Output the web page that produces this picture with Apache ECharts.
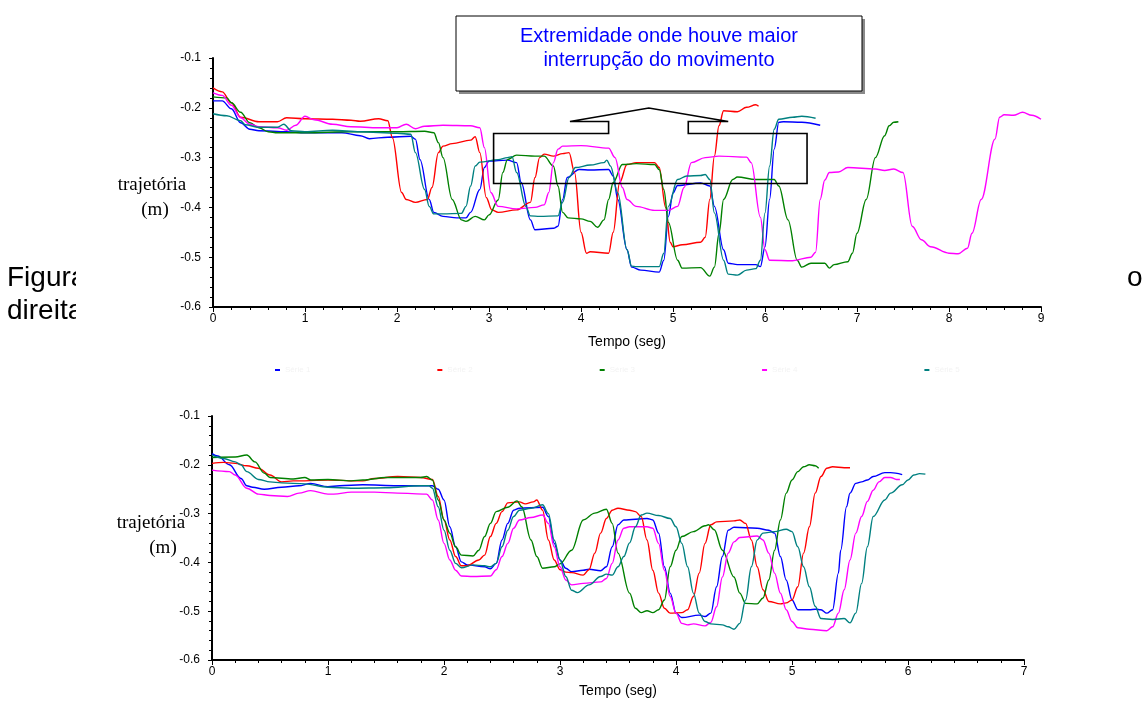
<!DOCTYPE html>
<html>
<head>
<meta charset="utf-8">
<script src="https://cdn.jsdelivr.net/npm/echarts@6/dist/echarts.min.js"></script>
<style>
  html, body { margin: 0; padding: 0; background: #fff; }
  #chart { width: 1145px; height: 702px; }
</style>
</head>
<body>
<div id="chart"></div>
<script>
// series names (legend order) and colours
const SERIES_NAMES = ['Série 1', 'Série 2', 'Série 3', 'Série 4', 'Série 5']
const COLORS = ['#0000ff', '#ff0000', '#008000', '#ff00ff', '#008080']

// top chart: [tempo, trajetória]
const topBlue = [[0,-0.186],[0.1,-0.186],[0.2,-0.202],[0.3,-0.23],[0.4,-0.243],[0.5,-0.246],[0.8,-0.248],[1.0,-0.25],[1.4,-0.25],[1.6,-0.256],[1.7,-0.262],[1.9,-0.259],[2.15,-0.257],[2.2,-0.263],[2.25,-0.304],[2.35,-0.384],[2.4,-0.41],[2.5,-0.418],[2.65,-0.421],[2.75,-0.421],[2.8,-0.41],[2.9,-0.364],[2.95,-0.32],[3.0,-0.307],[3.2,-0.305],[3.3,-0.31],[3.35,-0.35],[3.45,-0.425],[3.5,-0.445],[3.7,-0.442],[3.75,-0.438],[3.8,-0.384],[3.85,-0.34],[3.98,-0.324],[4.1,-0.325],[4.3,-0.324],[4.35,-0.337],[4.4,-0.384],[4.5,-0.485],[4.55,-0.52],[4.65,-0.526],[4.85,-0.53],[4.9,-0.506],[4.95,-0.418],[5.0,-0.371],[5.05,-0.356],[5.3,-0.351],[5.4,-0.357],[5.45,-0.398],[5.55,-0.485],[5.6,-0.512],[5.7,-0.515],[5.9,-0.515],[5.95,-0.519],[6.0,-0.479],[6.05,-0.384],[6.1,-0.283],[6.15,-0.229],[6.2,-0.228],[6.4,-0.229],[6.6,-0.235]]
const topRed = [[0,-0.16],[0.1,-0.168],[0.2,-0.19],[0.3,-0.219],[0.5,-0.228],[0.7,-0.228],[0.8,-0.22],[1.0,-0.222],[1.3,-0.223],[1.5,-0.225],[1.6,-0.227],[1.8,-0.222],[1.9,-0.226],[1.95,-0.26],[2.05,-0.37],[2.1,-0.384],[2.2,-0.39],[2.33,-0.384],[2.38,-0.36],[2.45,-0.29],[2.5,-0.277],[2.6,-0.272],[2.8,-0.265],[2.85,-0.258],[2.9,-0.29],[2.97,-0.38],[3.03,-0.405],[3.1,-0.41],[3.3,-0.405],[3.45,-0.39],[3.5,-0.34],[3.55,-0.3],[3.6,-0.293],[3.7,-0.297],[3.8,-0.292],[3.87,-0.29],[3.93,-0.33],[4.0,-0.45],[4.06,-0.492],[4.1,-0.489],[4.3,-0.492],[4.35,-0.45],[4.42,-0.35],[4.5,-0.314],[4.6,-0.31],[4.8,-0.31],[4.85,-0.32],[4.92,-0.4],[4.97,-0.47],[5.0,-0.479],[5.1,-0.475],[5.3,-0.47],[5.35,-0.46],[5.4,-0.384],[5.45,-0.297],[5.5,-0.236],[5.55,-0.206],[5.7,-0.208],[5.8,-0.199],[5.9,-0.194],[5.93,-0.197]]
const topGreen = [[0,-0.178],[0.15,-0.18],[0.2,-0.19],[0.3,-0.209],[0.4,-0.23],[0.5,-0.24],[0.6,-0.248],[0.7,-0.25],[1.0,-0.25],[1.5,-0.248],[2.0,-0.248],[2.3,-0.247],[2.4,-0.25],[2.45,-0.27],[2.5,-0.3],[2.6,-0.384],[2.7,-0.425],[2.75,-0.428],[2.85,-0.418],[2.95,-0.425],[3.0,-0.415],[3.1,-0.385],[3.15,-0.33],[3.2,-0.304],[3.3,-0.295],[3.5,-0.297],[3.6,-0.297],[3.7,-0.317],[3.75,-0.357],[3.8,-0.41],[3.86,-0.421],[4.0,-0.423],[4.1,-0.428],[4.18,-0.44],[4.25,-0.425],[4.3,-0.384],[4.35,-0.35],[4.45,-0.314],[4.6,-0.312],[4.8,-0.314],[4.85,-0.324],[4.9,-0.364],[4.95,-0.43],[5.05,-0.506],[5.1,-0.522],[5.3,-0.521],[5.4,-0.538],[5.45,-0.52],[5.5,-0.452],[5.55,-0.384],[5.65,-0.344],[5.7,-0.339],[5.9,-0.344],[6.1,-0.344],[6.15,-0.357],[6.25,-0.425],[6.35,-0.506],[6.4,-0.52],[6.5,-0.512],[6.65,-0.512],[6.7,-0.522],[6.75,-0.515],[6.9,-0.509],[6.95,-0.492],[7.0,-0.452],[7.1,-0.384],[7.2,-0.3],[7.3,-0.256],[7.35,-0.236],[7.4,-0.229],[7.45,-0.228]]
const topMagenta = [[0,-0.17],[0.1,-0.175],[0.2,-0.195],[0.3,-0.22],[0.4,-0.233],[0.5,-0.238],[0.7,-0.24],[0.8,-0.245],[0.9,-0.235],[1.0,-0.217],[1.1,-0.224],[1.3,-0.233],[1.5,-0.238],[1.8,-0.24],[2.0,-0.24],[2.1,-0.233],[2.2,-0.242],[2.3,-0.237],[2.5,-0.235],[2.8,-0.236],[2.9,-0.24],[2.95,-0.28],[3.02,-0.37],[3.1,-0.398],[3.3,-0.403],[3.5,-0.4],[3.6,-0.395],[3.65,-0.37],[3.7,-0.31],[3.75,-0.283],[3.8,-0.277],[4.0,-0.276],[4.3,-0.281],[4.37,-0.3],[4.45,-0.36],[4.5,-0.384],[4.6,-0.398],[4.8,-0.406],[4.95,-0.406],[5.05,-0.398],[5.12,-0.36],[5.2,-0.31],[5.35,-0.3],[5.5,-0.297],[5.8,-0.299],[5.85,-0.31],[5.95,-0.42],[6.0,-0.485],[6.05,-0.506],[6.3,-0.507],[6.5,-0.5],[6.55,-0.49],[6.6,-0.384],[6.65,-0.345],[6.7,-0.33],[6.8,-0.329],[6.9,-0.32],[7.2,-0.323],[7.3,-0.326],[7.4,-0.323],[7.5,-0.33],[7.6,-0.438],[7.7,-0.465],[7.8,-0.479],[8.0,-0.492],[8.1,-0.493],[8.2,-0.482],[8.25,-0.452],[8.35,-0.384],[8.5,-0.263],[8.55,-0.219],[8.6,-0.214],[8.7,-0.215],[8.8,-0.209],[8.9,-0.215],[9.0,-0.223]]
const topTeal = [[0,-0.212],[0.15,-0.216],[0.3,-0.226],[0.35,-0.234],[0.5,-0.239],[0.7,-0.239],[0.77,-0.233],[0.85,-0.246],[1.0,-0.248],[1.3,-0.245],[1.6,-0.248],[2.0,-0.251],[2.15,-0.253],[2.2,-0.29],[2.3,-0.364],[2.35,-0.398],[2.4,-0.413],[2.5,-0.413],[2.7,-0.412],[2.75,-0.398],[2.8,-0.357],[2.85,-0.317],[2.9,-0.309],[3.1,-0.304],[3.2,-0.3],[3.25,-0.298],[3.3,-0.33],[3.4,-0.398],[3.45,-0.417],[3.55,-0.418],[3.75,-0.417],[3.8,-0.39],[3.87,-0.34],[3.94,-0.32],[4.1,-0.315],[4.25,-0.31],[4.28,-0.305],[4.32,-0.317],[4.4,-0.371],[4.5,-0.485],[4.55,-0.518],[4.6,-0.519],[4.85,-0.519],[4.9,-0.492],[4.95,-0.398],[5.05,-0.344],[5.15,-0.337],[5.3,-0.336],[5.35,-0.334],[5.4,-0.344],[5.45,-0.411],[5.55,-0.506],[5.6,-0.534],[5.7,-0.536],[5.8,-0.526],[5.9,-0.523],[5.95,-0.506],[6.0,-0.411],[6.05,-0.317],[6.1,-0.243],[6.15,-0.223],[6.3,-0.219],[6.4,-0.217],[6.55,-0.221]]

// bottom chart
const botBlue = [[0,-0.177],[0.05,-0.182],[0.15,-0.2],[0.25,-0.228],[0.3,-0.243],[0.35,-0.246],[0.45,-0.25],[0.6,-0.246],[0.75,-0.243],[0.85,-0.238],[1.0,-0.245],[1.1,-0.243],[1.3,-0.241],[1.6,-0.243],[1.9,-0.243],[1.95,-0.25],[2.0,-0.272],[2.05,-0.327],[2.1,-0.368],[2.15,-0.399],[2.2,-0.405],[2.35,-0.409],[2.4,-0.413],[2.45,-0.402],[2.5,-0.354],[2.55,-0.32],[2.6,-0.293],[2.65,-0.289],[2.85,-0.287],[2.9,-0.306],[2.95,-0.361],[3.0,-0.395],[3.05,-0.412],[3.1,-0.419],[3.2,-0.416],[3.25,-0.414],[3.35,-0.417],[3.4,-0.409],[3.45,-0.368],[3.5,-0.323],[3.55,-0.313],[3.75,-0.31],[3.8,-0.313],[3.85,-0.34],[3.9,-0.409],[3.95,-0.463],[4.0,-0.504],[4.05,-0.513],[4.2,-0.508],[4.25,-0.511],[4.3,-0.504],[4.35,-0.45],[4.4,-0.388],[4.45,-0.334],[4.5,-0.328],[4.7,-0.33],[4.8,-0.334],[4.85,-0.34],[4.9,-0.388],[4.95,-0.436],[5.0,-0.477],[5.05,-0.497],[5.15,-0.497],[5.2,-0.496],[5.25,-0.497],[5.3,-0.504],[5.35,-0.497],[5.4,-0.422],[5.42,-0.375],[5.47,-0.286],[5.5,-0.258],[5.55,-0.238],[5.6,-0.235],[5.65,-0.231],[5.7,-0.224],[5.8,-0.216],[5.85,-0.216],[5.95,-0.22]]
const botRed = [[0,-0.197],[0.1,-0.195],[0.2,-0.197],[0.3,-0.202],[0.4,-0.207],[0.5,-0.221],[0.6,-0.235],[0.7,-0.233],[0.8,-0.233],[1.0,-0.231],[1.2,-0.233],[1.3,-0.233],[1.4,-0.228],[1.6,-0.224],[1.8,-0.226],[1.9,-0.23],[1.95,-0.265],[2.0,-0.313],[2.05,-0.354],[2.1,-0.388],[2.15,-0.407],[2.2,-0.407],[2.3,-0.395],[2.35,-0.385],[2.4,-0.347],[2.45,-0.32],[2.5,-0.296],[2.55,-0.278],[2.65,-0.276],[2.7,-0.28],[2.77,-0.276],[2.8,-0.272],[2.85,-0.293],[2.9,-0.354],[2.95,-0.395],[3.0,-0.415],[3.05,-0.42],[3.1,-0.421],[3.2,-0.426],[3.25,-0.415],[3.3,-0.381],[3.35,-0.34],[3.4,-0.31],[3.45,-0.293],[3.5,-0.289],[3.6,-0.293],[3.65,-0.296],[3.7,-0.306],[3.75,-0.354],[3.8,-0.416],[3.85,-0.463],[3.9,-0.494],[3.95,-0.504],[4.05,-0.503],[4.1,-0.497],[4.15,-0.47],[4.2,-0.422],[4.25,-0.361],[4.3,-0.323],[4.35,-0.317],[4.5,-0.315],[4.55,-0.313],[4.6,-0.32],[4.65,-0.354],[4.7,-0.409],[4.75,-0.456],[4.8,-0.48],[4.9,-0.485],[4.95,-0.483],[5.0,-0.477],[5.05,-0.45],[5.1,-0.381],[5.15,-0.327],[5.2,-0.258],[5.25,-0.224],[5.3,-0.207],[5.35,-0.204],[5.45,-0.206],[5.5,-0.206]]
const botGreen = [[0,-0.185],[0.2,-0.184],[0.3,-0.18],[0.37,-0.194],[0.45,-0.217],[0.5,-0.226],[0.7,-0.229],[0.8,-0.226],[0.85,-0.231],[1.0,-0.23],[1.2,-0.233],[1.3,-0.231],[1.5,-0.226],[1.8,-0.226],[1.85,-0.224],[1.9,-0.231],[1.95,-0.272],[2.0,-0.313],[2.05,-0.34],[2.1,-0.368],[2.15,-0.385],[2.25,-0.387],[2.3,-0.375],[2.35,-0.347],[2.4,-0.32],[2.45,-0.296],[2.55,-0.287],[2.63,-0.274],[2.67,-0.286],[2.75,-0.354],[2.8,-0.388],[2.85,-0.412],[2.95,-0.409],[3.0,-0.403],[3.1,-0.375],[3.2,-0.313],[3.3,-0.299],[3.4,-0.291],[3.45,-0.32],[3.5,-0.381],[3.6,-0.463],[3.65,-0.494],[3.7,-0.503],[3.75,-0.499],[3.8,-0.503],[3.85,-0.497],[3.9,-0.477],[3.95,-0.409],[4.0,-0.375],[4.05,-0.347],[4.15,-0.337],[4.25,-0.325],[4.28,-0.323],[4.33,-0.333],[4.4,-0.375],[4.5,-0.43],[4.55,-0.463],[4.6,-0.484],[4.7,-0.485],[4.75,-0.473],[4.8,-0.436],[4.85,-0.375],[4.9,-0.313],[4.95,-0.258],[5.0,-0.231],[5.05,-0.214],[5.1,-0.204],[5.15,-0.2],[5.2,-0.202],[5.23,-0.207]]
const botMagenta = [[0,-0.211],[0.15,-0.214],[0.2,-0.221],[0.3,-0.248],[0.4,-0.26],[0.5,-0.263],[0.65,-0.265],[0.75,-0.258],[0.85,-0.253],[1.0,-0.26],[1.05,-0.26],[1.2,-0.256],[1.4,-0.256],[1.6,-0.258],[1.85,-0.26],[1.9,-0.272],[1.95,-0.313],[2.0,-0.361],[2.05,-0.395],[2.1,-0.416],[2.15,-0.428],[2.25,-0.429],[2.4,-0.428],[2.45,-0.415],[2.5,-0.388],[2.55,-0.361],[2.6,-0.33],[2.65,-0.313],[2.75,-0.308],[2.85,-0.303],[2.9,-0.32],[2.95,-0.368],[3.0,-0.409],[3.05,-0.436],[3.1,-0.446],[3.2,-0.443],[3.35,-0.44],[3.4,-0.433],[3.45,-0.402],[3.5,-0.354],[3.55,-0.33],[3.6,-0.327],[3.75,-0.327],[3.8,-0.33],[3.85,-0.361],[3.9,-0.416],[3.95,-0.47],[4.0,-0.504],[4.05,-0.525],[4.1,-0.528],[4.15,-0.526],[4.25,-0.53],[4.3,-0.523],[4.35,-0.491],[4.4,-0.43],[4.45,-0.381],[4.5,-0.358],[4.55,-0.349],[4.7,-0.346],[4.75,-0.354],[4.8,-0.381],[4.85,-0.422],[4.9,-0.463],[4.95,-0.497],[5.0,-0.521],[5.05,-0.534],[5.15,-0.537],[5.3,-0.54],[5.35,-0.532],[5.4,-0.504],[5.45,-0.456],[5.5,-0.395],[5.55,-0.34],[5.6,-0.306],[5.65,-0.275],[5.7,-0.252],[5.75,-0.235],[5.8,-0.226],[5.85,-0.226],[5.9,-0.23],[5.93,-0.23]]
const botTeal = [[0,-0.18],[0.1,-0.187],[0.2,-0.194],[0.25,-0.2],[0.3,-0.214],[0.4,-0.23],[0.5,-0.235],[0.6,-0.237],[0.8,-0.239],[1.0,-0.246],[1.2,-0.248],[1.5,-0.247],[1.8,-0.243],[1.87,-0.243],[1.9,-0.248],[1.95,-0.286],[2.0,-0.334],[2.05,-0.375],[2.1,-0.402],[2.15,-0.411],[2.25,-0.405],[2.35,-0.407],[2.4,-0.409],[2.45,-0.402],[2.5,-0.368],[2.55,-0.334],[2.6,-0.306],[2.65,-0.293],[2.75,-0.289],[2.85,-0.282],[2.9,-0.3],[2.95,-0.354],[3.0,-0.395],[3.05,-0.429],[3.1,-0.457],[3.15,-0.462],[3.25,-0.446],[3.35,-0.429],[3.4,-0.424],[3.45,-0.426],[3.5,-0.409],[3.55,-0.388],[3.6,-0.36],[3.65,-0.327],[3.7,-0.303],[3.75,-0.299],[3.85,-0.304],[3.95,-0.31],[4.0,-0.327],[4.05,-0.361],[4.1,-0.409],[4.15,-0.463],[4.2,-0.504],[4.25,-0.521],[4.3,-0.526],[4.4,-0.528],[4.45,-0.532],[4.5,-0.537],[4.55,-0.525],[4.6,-0.477],[4.65,-0.409],[4.7,-0.354],[4.75,-0.34],[4.85,-0.337],[4.95,-0.332],[5.0,-0.337],[5.05,-0.368],[5.1,-0.409],[5.15,-0.45],[5.2,-0.49],[5.25,-0.515],[5.35,-0.517],[5.45,-0.515],[5.5,-0.524],[5.55,-0.504],[5.6,-0.443],[5.65,-0.368],[5.7,-0.306],[5.8,-0.272],[5.85,-0.258],[5.95,-0.241],[6.0,-0.231],[6.05,-0.221],[6.1,-0.218],[6.15,-0.219]]

const TOP_SERIES = [topBlue, topRed, topGreen, topMagenta, topTeal]
const BOT_SERIES = [botBlue, botRed, botGreen, botMagenta, botTeal]

// axes ranges
const Y_MIN = -0.6, Y_MAX = -0.1
const TOP_X_MAX = 9, BOT_X_MAX = 7

// callout shape in data coords of the top chart (tempo, trajetória)
const calloutPts = [[4.30,-0.2516],[3.05,-0.2516],[3.05,-0.352],[6.457,-0.352],[6.457,-0.2516],[5.166,-0.2516],[5.166,-0.2274],[5.6,-0.2274],[4.737,-0.2004],[3.88,-0.2274],[4.30,-0.2274]]
const noteLines = ['Extremidade onde houve maior', 'interrupção do movimento']

const SANS = '"Liberation Sans", Arial, sans-serif'
const SERIF = '"Liberation Serif", "Times New Roman", serif'

const el = document.getElementById('chart')
const chart = echarts.init(el, null, { renderer: 'canvas' })

function xAxisOpt(gridIndex, max, nameGap) {
  return {
    type: 'value', gridIndex, min: 0, max, interval: 1,
    name: 'Tempo (seg)', nameLocation: 'middle', nameGap,
    nameTextStyle: { color: '#000', fontSize: 14, fontFamily: SANS },
    axisLine: { onZero: false, lineStyle: { color: '#000', width: 2 } },
    axisTick: { length: 5, lineStyle: { color: '#000' } },
    minorTick: { show: true, splitNumber: 5, length: 3, lineStyle: { color: '#000' } },
    axisLabel: { color: '#000', fontSize: 12, fontFamily: SANS, margin: 6 },
    splitLine: { show: false },
  }
}
function yAxisOpt(gridIndex) {
  return {
    type: 'value', gridIndex, min: Y_MIN, max: Y_MAX, interval: 0.1,
    axisLine: { show: true, onZero: false, lineStyle: { color: '#000', width: 2 } },
    axisTick: { show: true, length: 4, lineStyle: { color: '#000' } },
    minorTick: { show: true, splitNumber: 5, length: 3, lineStyle: { color: '#000' } },
    axisLabel: { color: '#000', fontSize: 12, fontFamily: SANS, margin: 12 },
    splitLine: { show: false },
  }
}
function lineSeries(data, i, gridIndex) {
  return {
    name: SERIES_NAMES[i], type: 'line',
    xAxisIndex: gridIndex, yAxisIndex: gridIndex,
    data, showSymbol: false, smooth: 0.35, smoothMonotone: 'x',
    lineStyle: { width: 1.4, color: COLORS[i] },
    itemStyle: { color: COLORS[i] },
    silent: true, animation: false,
  }
}

chart.setOption({
  backgroundColor: '#fff',
  animation: false,
  color: COLORS,
  legend: {
    data: SERIES_NAMES, left: 270, top: 361, itemGap: 127,
    icon: 'rect', itemWidth: 5, itemHeight: 2,
    textStyle: { color: '#f3f3f3', fontSize: 8, fontFamily: SANS },
  },
  grid: [
    { left: 213, top: 58, width: 828, height: 249 },
    { left: 212, top: 416, width: 812, height: 244 },
  ],
  xAxis: [xAxisOpt(0, TOP_X_MAX, 28), xAxisOpt(1, BOT_X_MAX, 24)],
  yAxis: [yAxisOpt(0), yAxisOpt(1)],
  series: [
    ...TOP_SERIES.map((d, i) => lineSeries(d, i, 0)),
    ...BOT_SERIES.map((d, i) => lineSeries(d, i, 1)),
  ],
})

// annotations (page text + callout), placed after the axes exist
const callout = calloutPts.map(p => chart.convertToPixel({ gridIndex: 0 }, p))
const boxX = 456, boxY = 16, boxW = 406, boxH = 75
chart.setOption({
  graphic: [
    // body text of the page, cut by the figure's white area
    { type: 'text', z: -3, left: 7, top: 264, style: { text: 'Figura', fill: '#000', font: '28px ' + SANS } },
    { type: 'text', z: -3, left: 7, top: 297, style: { text: 'direita', fill: '#000', font: '28px ' + SANS } },
    { type: 'rect', z: -2, shape: { x: 76, y: 0, width: 1050, height: 702 }, style: { fill: '#fff' } },
    { type: 'text', z: -3, left: 1127, top: 264, style: { text: 'o', fill: '#000', font: '28px ' + SANS } },
    // y axis titles
    { type: 'text', x: 152, y: 185, style: { text: 'trajetória', fill: '#000', font: '19px ' + SERIF, align: 'center', verticalAlign: 'middle' } },
    { type: 'text', x: 155, y: 210, style: { text: '(m)', fill: '#000', font: '19px ' + SERIF, align: 'center', verticalAlign: 'middle' } },
    { type: 'text', x: 151, y: 523, style: { text: 'trajetória', fill: '#000', font: '19px ' + SERIF, align: 'center', verticalAlign: 'middle' } },
    { type: 'text', x: 163, y: 548, style: { text: '(m)', fill: '#000', font: '19px ' + SERIF, align: 'center', verticalAlign: 'middle' } },
    // note box with shadow
    { type: 'rect', z: 5, shape: { x: boxX + 3, y: boxY + 3, width: boxW, height: boxH }, style: { fill: '#8a8a8a' } },
    { type: 'rect', z: 6, shape: { x: boxX, y: boxY, width: boxW, height: boxH }, style: { fill: '#fff', stroke: '#000', lineWidth: 1 } },
    { type: 'text', z: 7, x: boxX + boxW / 2, y: 36, style: { text: noteLines[0], fill: '#0000ff', font: '20px ' + SANS, align: 'center', verticalAlign: 'middle' } },
    { type: 'text', z: 7, x: boxX + boxW / 2, y: 60, style: { text: noteLines[1], fill: '#0000ff', font: '20px ' + SANS, align: 'center', verticalAlign: 'middle' } },
    // callout on the plot
    { type: 'polygon', z: 8, shape: { points: callout }, style: { fill: null, stroke: '#000', lineWidth: 1.6 } },
  ],
})
</script>
</body>
</html>
